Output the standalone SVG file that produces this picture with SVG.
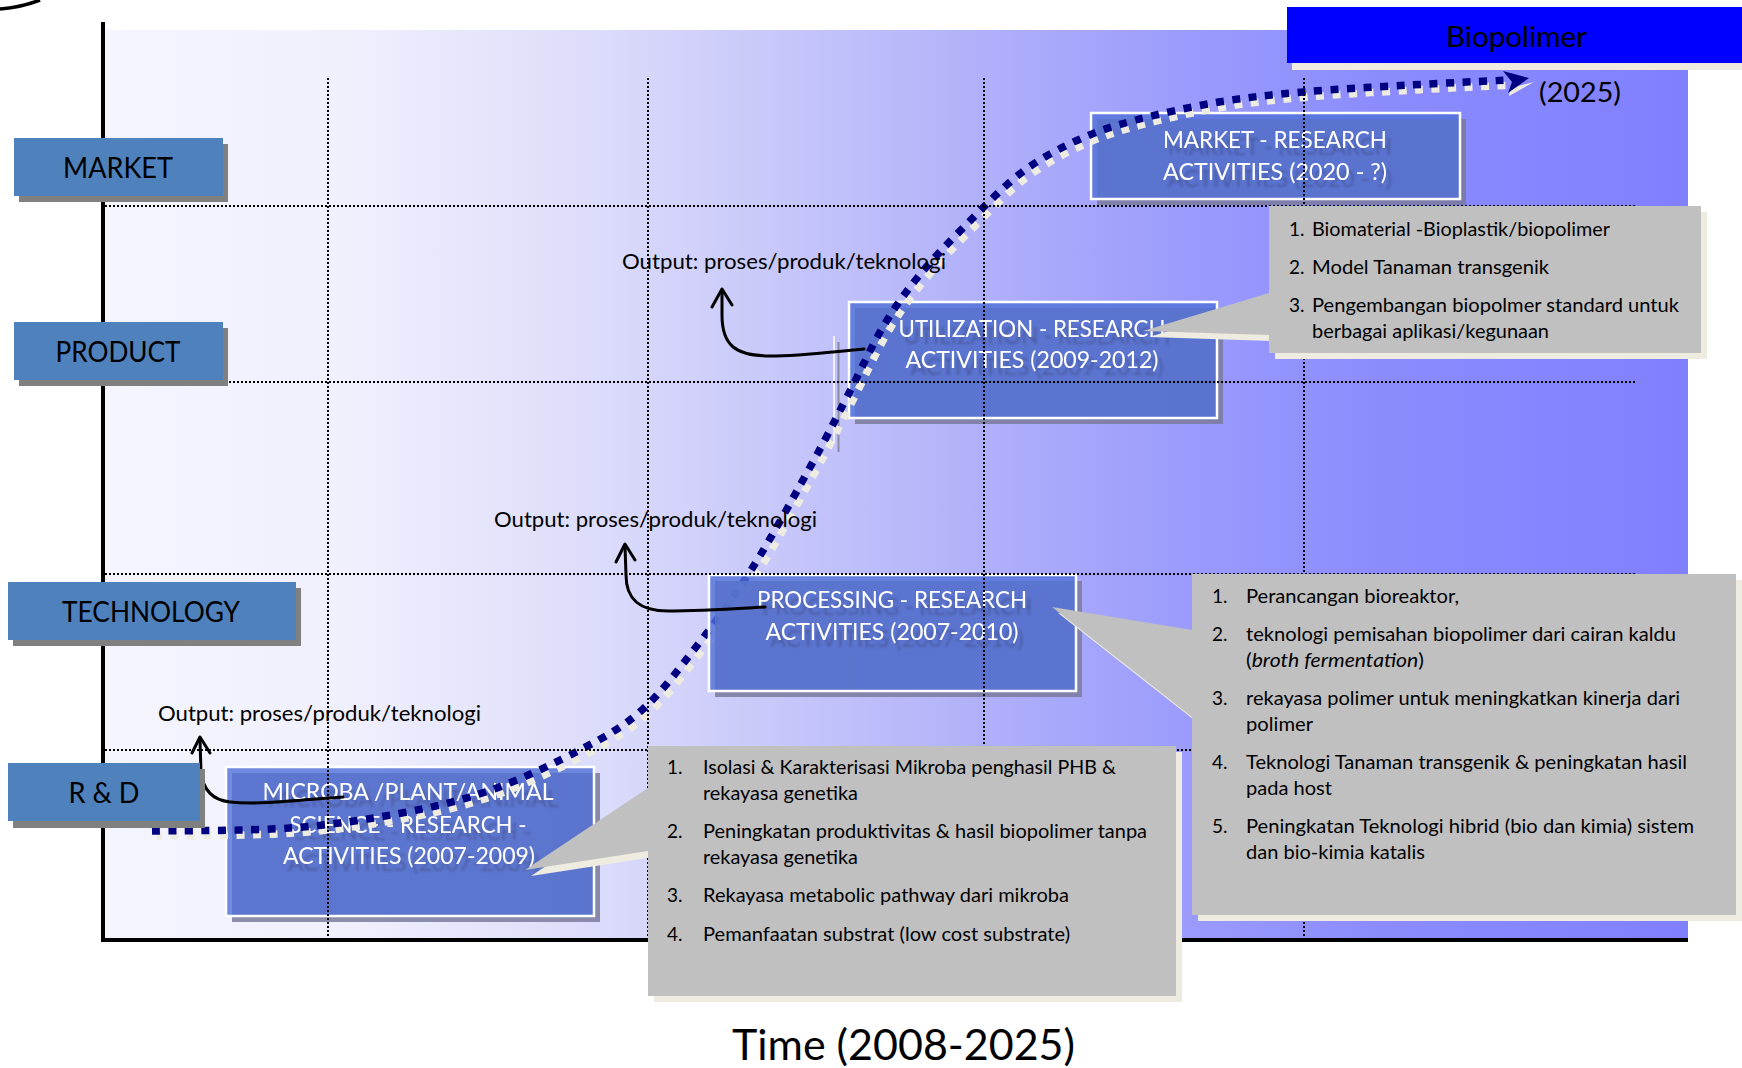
<svg xmlns="http://www.w3.org/2000/svg" width="1742" height="1068" viewBox="0 0 1742 1068">
<defs>
<linearGradient id="bg" x1="105" y1="0" x2="1688" y2="0" gradientUnits="userSpaceOnUse">
<stop offset="0" stop-color="#f5f5fe"/>
<stop offset="0.15" stop-color="#f0f0fd"/>
<stop offset="0.31" stop-color="#dcdcfb"/>
<stop offset="0.555" stop-color="#b0b0fa"/>
<stop offset="0.69" stop-color="#9a9afd"/>
<stop offset="0.8" stop-color="#8c8cfe"/>
<stop offset="1" stop-color="#8080ff"/>
</linearGradient>
<filter id="ts" x="-10%" y="-30%" width="125%" height="180%">
<feDropShadow dx="5" dy="7" stdDeviation="1.2" flood-color="#303060" flood-opacity="0.35"/>
</filter>
</defs>
<style>
text{font-family:Lato,"Liberation Sans",sans-serif}
.lbl{font-size:28px;fill:#000;text-anchor:middle}
.lblbox{fill:#4f81bd}
.lblsh{fill:#808080}
.act{font-size:22.5px;fill:#fff;text-anchor:middle;filter:url(#ts)}
.actbox{fill:#5070d8;fill-opacity:0.8;stroke:#fff;stroke-width:2.5}
.actsh{fill:#7a7a9c;fill-opacity:0.85}
.grid{stroke:#000;stroke-width:2;stroke-dasharray:2 2;fill:none}
.out{font-size:20.5px;fill:#000}
.arr{fill:none;stroke:#000;stroke-width:3;stroke-linecap:round;stroke-linejoin:round}
.co{font-size:19px;fill:#000}
.cobox{fill:#c0c0c0}
.cosh{fill:#eeece1}
.curve{fill:none;stroke-width:7.5;stroke-dasharray:8 8.5}
</style>

<path d="M0,9 Q22,7 40,0" fill="none" stroke="#000" stroke-width="3.5"/>

<rect x="105" y="30" width="1583" height="910" fill="url(#bg)"/>
<g id="axes">
<line x1="103" y1="22" x2="103" y2="942" stroke="#000" stroke-width="4"/>
<line x1="101" y1="940" x2="1688" y2="940" stroke="#000" stroke-width="4"/>
</g>

<g id="market-research">
<rect class="actsh" x="1097" y="119" width="369" height="86"/>
<rect class="actbox" x="1091" y="113" width="369" height="86"/>
<text class="act" x="1163" y="148" style="text-anchor:start" textLength="224" lengthAdjust="spacingAndGlyphs">MARKET - RESEARCH</text>
<text class="act" x="1163" y="180" style="text-anchor:start" textLength="224" lengthAdjust="spacingAndGlyphs">ACTIVITIES (2020 - ?)</text>
</g>

<g id="utilization-research">
<rect class="actsh" x="855" y="308" width="368" height="116"/>
<rect class="actbox" x="849" y="302" width="368" height="116"/>
<line x1="834" y1="336" x2="834" y2="443" stroke="#fff" stroke-width="1.5"/>
<line x1="838.5" y1="342" x2="838.5" y2="452" stroke="#8a8aa0" stroke-width="2"/>
<text class="act" x="1032" y="337" textLength="267" lengthAdjust="spacingAndGlyphs">UTILIZATION - RESEARCH</text>
<text class="act" x="1032" y="368" textLength="253" lengthAdjust="spacingAndGlyphs">ACTIVITIES (2009-2012)</text>
</g>

<g id="microba-research">
<rect class="actsh" x="232" y="773" width="368" height="149"/>
<rect class="actbox" x="226" y="767" width="368" height="149"/>
<text class="act" x="408" y="800" textLength="291" lengthAdjust="spacingAndGlyphs">MICROBA /PLANT/ANIMAL</text>
<text class="act" x="408" y="833" textLength="237" lengthAdjust="spacingAndGlyphs">SCIENCE - RESEARCH -</text>
<text class="act" x="409" y="864" textLength="252" lengthAdjust="spacingAndGlyphs">ACTIVITIES (2007-2009)</text>
</g>

<g id="connectors">
<g id="s-curve">
<path class="curve" stroke="#eeece1" transform="translate(5,5)" stroke-dashoffset="3" d="M152,831 C175,830.5 248,831 290,828 C332,825 368.5,819.3 402,813 C435.5,806.7 461.3,800.5 491,790 C520.7,779.5 554.8,763.3 580,750 C605.2,736.7 622.7,727.2 642,710 C661.3,692.8 677.5,670.8 696,647 C714.5,623.2 733.3,598.2 753,567 C772.7,535.8 798.2,488.7 814,460 C829.8,431.3 836.5,417.2 848,395 C859.5,372.8 871.3,346.7 883,327 C894.7,307.3 904.5,293.7 918,277 C931.5,260.3 946.8,244.3 964,227 C981.2,209.7 1002,187.5 1021,173 C1040,158.5 1058.8,148.8 1078,140 C1097.2,131.2 1112.5,126.3 1136,120 C1159.5,113.7 1191.2,106.7 1219,102 C1246.8,97.3 1271.2,94.8 1303,92 C1334.8,89.2 1375.5,87 1410,85 C1444.5,83 1493.3,80.8 1508,80"/>
<path class="curve" stroke="#000080" d="M152,831 C175,830.5 248,831 290,828 C332,825 368.5,819.3 402,813 C435.5,806.7 461.3,800.5 491,790 C520.7,779.5 554.8,763.3 580,750 C605.2,736.7 622.7,727.2 642,710 C661.3,692.8 677.5,670.8 696,647 C714.5,623.2 733.3,598.2 753,567 C772.7,535.8 798.2,488.7 814,460 C829.8,431.3 836.5,417.2 848,395 C859.5,372.8 871.3,346.7 883,327 C894.7,307.3 904.5,293.7 918,277 C931.5,260.3 946.8,244.3 964,227 C981.2,209.7 1002,187.5 1021,173 C1040,158.5 1058.8,148.8 1078,140 C1097.2,131.2 1112.5,126.3 1136,120 C1159.5,113.7 1191.2,106.7 1219,102 C1246.8,97.3 1271.2,94.8 1303,92 C1334.8,89.2 1375.5,87 1410,85 C1444.5,83 1493.3,80.8 1508,80"/>
<polygon points="1510,88 1534,82 1509,96" fill="#eeece1"/>
<polygon points="1503,71 1529,78 1508,93 1512,82" fill="#000080"/>
</g>
</g>

<g id="processing-research">
<rect class="actsh" x="715" y="581" width="367" height="116"/>
<rect class="actbox" x="709" y="575" width="367" height="116"/>
<text class="act" x="892" y="608" textLength="270" lengthAdjust="spacingAndGlyphs">PROCESSING - RESEARCH</text>
<text class="act" x="892" y="640" textLength="253" lengthAdjust="spacingAndGlyphs">ACTIVITIES (2007-2010)</text>
</g>

<g id="grid">
<line class="grid" x1="105" y1="206" x2="1637" y2="206"/>
<line class="grid" x1="105" y1="382" x2="1637" y2="382"/>
<line class="grid" x1="105" y1="574" x2="1637" y2="574"/>
<line class="grid" x1="105" y1="750" x2="1637" y2="750"/>
<line class="grid" x1="328" y1="78" x2="328" y2="938"/>
<line class="grid" x1="648" y1="78" x2="648" y2="938"/>
<line class="grid" x1="984" y1="78" x2="984" y2="938"/>
<line class="grid" x1="1304" y1="78" x2="1304" y2="938"/>
</g>

<g id="output-arrows">
<path class="arr" d="M864,349 C830,352 800,356 770,356 C735,356 722,345 722,315 L722,291"/>
<path class="arr" d="M712,307 L722,289 L732,305"/>
<path class="arr" d="M765,607 C730,609 700,611 668,611 C640,611 626,600 626,575 L625,546"/>
<path class="arr" d="M616,562 L625,544 L635,560"/>
<path class="arr" d="M343,797 C300,800 260,805 230,802 C212,800 203,790 201,772 L200,740"/>
<path class="arr" d="M192,753 L200,737 L210,753"/>
</g>
<g id="outputs">
<text class="out" x="622" y="269" textLength="324" lengthAdjust="spacingAndGlyphs">Output: proses/produk/teknologi</text>
<text class="out" x="494" y="527" textLength="323" lengthAdjust="spacingAndGlyphs">Output: proses/produk/teknologi</text>
<text class="out" x="158" y="721" textLength="323" lengthAdjust="spacingAndGlyphs">Output: proses/produk/teknologi</text>
</g>

<g id="label-market">
<rect class="lblsh" x="19" y="144" width="209" height="58"/>
<rect class="lblbox" x="14" y="138" width="209" height="58"/>
<text class="lbl" x="118" y="178" textLength="110" lengthAdjust="spacingAndGlyphs">MARKET</text>
</g>
<g id="label-product">
<rect class="lblsh" x="19" y="328" width="209" height="58"/>
<rect class="lblbox" x="14" y="322" width="209" height="58"/>
<text class="lbl" x="118" y="362" textLength="125" lengthAdjust="spacingAndGlyphs">PRODUCT</text>
</g>
<g id="label-technology">
<rect class="lblsh" x="13" y="588" width="288" height="58"/>
<rect class="lblbox" x="8" y="582" width="288" height="58"/>
<text class="lbl" x="151" y="622" textLength="178" lengthAdjust="spacingAndGlyphs">TECHNOLOGY</text>
</g>
<g id="label-rd">
<rect class="lblsh" x="13" y="769" width="192" height="59"/>
<rect class="lblbox" x="8" y="763" width="192" height="58"/>
<text class="lbl" x="104" y="803" textLength="71" lengthAdjust="spacingAndGlyphs">R &amp; D</text>
</g>

<g id="callout-utilization">
<path class="cosh" transform="translate(6,6)" d="M1269,206 H1701 V353 H1269 V335 L1143,331 L1269,293 Z"/>
<path class="cobox" d="M1269,206 H1701 V353 H1269 V335 L1143,331 L1269,293 Z"/>
<text class="co" x="1289" y="236">1.</text>
<text class="co" x="1312" y="236" textLength="298" lengthAdjust="spacingAndGlyphs">Biomaterial -Bioplastik/biopolimer</text>
<text class="co" x="1289" y="274">2.</text>
<text class="co" x="1312" y="274" textLength="237" lengthAdjust="spacingAndGlyphs">Model Tanaman transgenik</text>
<text class="co" x="1289" y="312">3.</text>
<text class="co" x="1312" y="312" textLength="367" lengthAdjust="spacingAndGlyphs">Pengembangan biopolmer standard untuk</text>
<text class="co" x="1312" y="338" textLength="237" lengthAdjust="spacingAndGlyphs">berbagai aplikasi/kegunaan</text>
</g>

<g id="callout-processing">
<path class="cosh" transform="translate(6,6)" d="M1192,574 H1736 V915 H1192 V717 L1052,607 L1192,630 Z"/>
<path class="cobox" d="M1192,574 H1736 V915 H1192 V717 L1052,607 L1192,630 Z"/>
<text class="co" x="1212" y="603">1.</text>
<text class="co" x="1246" y="603" textLength="213" lengthAdjust="spacingAndGlyphs">Perancangan bioreaktor,</text>
<text class="co" x="1212" y="641">2.</text>
<text class="co" x="1246" y="641" textLength="430" lengthAdjust="spacingAndGlyphs">teknologi pemisahan biopolimer dari cairan kaldu</text>
<text class="co" x="1246" y="667" textLength="178" lengthAdjust="spacingAndGlyphs">(<tspan font-style="italic">broth fermentation</tspan>)</text>
<text class="co" x="1212" y="705">3.</text>
<text class="co" x="1246" y="705" textLength="434" lengthAdjust="spacingAndGlyphs">rekayasa polimer untuk meningkatkan kinerja dari</text>
<text class="co" x="1246" y="731" textLength="67" lengthAdjust="spacingAndGlyphs">polimer</text>
<text class="co" x="1212" y="769">4.</text>
<text class="co" x="1246" y="769" textLength="441" lengthAdjust="spacingAndGlyphs">Teknologi Tanaman transgenik &amp; peningkatan hasil</text>
<text class="co" x="1246" y="795" textLength="86" lengthAdjust="spacingAndGlyphs">pada host</text>
<text class="co" x="1212" y="833">5.</text>
<text class="co" x="1246" y="833" textLength="448" lengthAdjust="spacingAndGlyphs">Peningkatan Teknologi hibrid (bio dan kimia) sistem</text>
<text class="co" x="1246" y="859" textLength="179" lengthAdjust="spacingAndGlyphs">dan bio-kimia katalis</text>
</g>

<g id="callout-microba">
<path class="cosh" transform="translate(6,6)" d="M648,746 H1176 V996 H648 V851 L525,870 L648,788 Z"/>
<path class="cobox" d="M648,746 H1176 V996 H648 V851 L525,870 L648,788 Z"/>
<text class="co" x="667" y="774">1.</text>
<text class="co" x="703" y="774" textLength="413" lengthAdjust="spacingAndGlyphs">Isolasi &amp; Karakterisasi Mikroba penghasil PHB &amp;</text>
<text class="co" x="703" y="800" textLength="155" lengthAdjust="spacingAndGlyphs">rekayasa genetika</text>
<text class="co" x="667" y="838">2.</text>
<text class="co" x="703" y="838" textLength="444" lengthAdjust="spacingAndGlyphs">Peningkatan produktivitas &amp; hasil biopolimer tanpa</text>
<text class="co" x="703" y="864" textLength="155" lengthAdjust="spacingAndGlyphs">rekayasa genetika</text>
<text class="co" x="667" y="902">3.</text>
<text class="co" x="703" y="902" textLength="366" lengthAdjust="spacingAndGlyphs">Rekayasa metabolic pathway dari mikroba</text>
<text class="co" x="667" y="941">4.</text>
<text class="co" x="703" y="941" textLength="367" lengthAdjust="spacingAndGlyphs">Pemanfaatan substrat (low cost substrate)</text>
</g>

<g id="biopolimer">
<rect x="1292" y="13" width="460" height="57" fill="#eeece1"/>
<rect x="1287" y="7" width="460" height="56" fill="#0000ff"/>
<text x="1446" y="47" font-size="28" fill="#000" textLength="141" lengthAdjust="spacingAndGlyphs">Biopolimer</text>
</g>
<text x="1539" y="102" font-size="26" fill="#000" textLength="82" lengthAdjust="spacingAndGlyphs">(2025)</text>

<text x="732" y="1060" font-size="42" fill="#000" textLength="343" lengthAdjust="spacingAndGlyphs">Time (2008-2025)</text>
</svg>
